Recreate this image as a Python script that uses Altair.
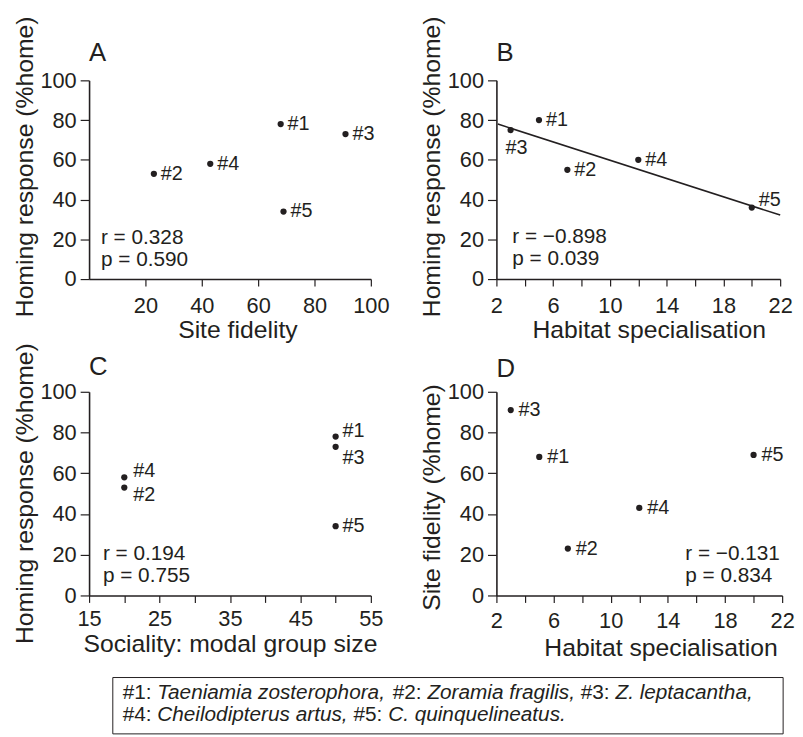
import altair as alt
import pandas as pd

# ---------------- data ----------------
species = ["#1", "#2", "#3", "#4", "#5"]
site_fidelity = [68, 23, 91, 43, 69]
homing_a = [78, 53, 73, 58, 34]
homing_b = [80, 55, 75, 60, 36]
homing_c = [78, 53, 73, 58, 34]
habitat = [5, 7, 3, 12, 20]
sociality = [50, 20, 50, 20, 50]

stats_a = ["r = 0.328", "p = 0.590"]
stats_b = ["r = \u22120.898", "p = 0.039"]
stats_c = ["r = 0.194", "p = 0.755"]
stats_d = ["r = \u22120.131", "p = 0.834"]

y_ticks = [0, 20, 40, 60, 80, 100]
fid_ticks = [20, 40, 60, 80, 100]
hab_ticks = [2, 4, 6, 8, 10, 12, 14, 16, 18, 20, 22]
soc_ticks = [15, 20, 25, 30, 35, 40, 45, 50, 55]

legend_line1 = [("#1: ", False), ("Taeniamia zosterophora,", True), (" #2: ", False),
                ("Zoramia fragilis,", True), (" #3: ", False), ("Z. leptacantha,", True)]
legend_line2 = [("#4: ", False), ("Cheilodipterus artus,", True), (" #5: ", False),
                ("C. quinquelineatus.", True)]

# ---------------- style ----------------
FONT = "Liberation Sans"
INK = "#231f20"
LEG_SIZE = 21

# Arial / Liberation Sans advance widths (per 1000 em)
W = {" ": 278, "#": 556, ",": 278, ".": 278, ":": 278, "C": 722, "T": 611, "Z": 611,
     "a": 556, "c": 500, "d": 556, "e": 556, "f": 278, "g": 556, "h": 556, "i": 222,
     "l": 222, "m": 833, "n": 556, "o": 556, "p": 556, "q": 556, "r": 333, "s": 500,
     "t": 278, "u": 556, "z": 500}
for dgt in "0123456789":
    W[dgt] = 556


def text_width(s, size):
    return sum(W.get(ch, 556) for ch in s) * size / 1000.0


def axis_x(values, title, label_expr=None, label_pad=10, title_pad=1, title_x=None):
    kw = dict(values=values, title=title, tickSize=7, labelPadding=label_pad,
              titlePadding=title_pad, labelFlush=False, labelOverlap=False)
    if label_expr:
        kw["labelExpr"] = label_expr
    if title_x is not None:
        kw["titleX"] = title_x
    return alt.Axis(**kw)


def axis_y(title, title_y):
    return alt.Axis(values=y_ticks, title=title, titleY=title_y, tickSize=9,
                    labelPadding=4, titlePadding=2.5, labelOverlap=False)


ONE = alt.Data(values=[{"k": 1}])


def panel(df, xf, yf, xdom, xaxis, yaxis, w, h, letter, letter_y, stats, sx, sy,
          offsets, pre=(), post=()):
    base = alt.Chart(df).encode(
        x=alt.X(f"{xf}:Q", scale=alt.Scale(domain=xdom, nice=False, zero=False), axis=xaxis),
        y=alt.Y(f"{yf}:Q", scale=alt.Scale(domain=[0, 100], nice=False), axis=yaxis),
    )
    layers = [p(base) for p in pre]
    layers.append(base.mark_circle(size=40, color=INK, opacity=1))
    groups = {}
    for sp, off in offsets.items():
        groups.setdefault(off, []).append(sp)
    for (dx, dy, align), sps in groups.items():
        layers.append(
            base.mark_text(dx=dx, dy=dy, align=align, baseline="middle", font=FONT,
                           fontSize=20, color=INK)
            .encode(text="sp:N")
            .transform_filter(alt.FieldOneOfPredicate(field="sp", oneOf=sps))
        )
    layers.append(
        alt.Chart(ONE).mark_text(align="left", baseline="alphabetic", font=FONT, fontSize=21,
                                 lineHeight=22, color=INK)
        .encode(x=alt.value(sx), y=alt.value(sy), text=alt.value(stats))
    )
    layers.append(
        alt.Chart(ONE).mark_text(align="left", baseline="alphabetic", font=FONT, fontSize=26,
                                 color=INK)
        .encode(x=alt.value(0), y=alt.value(letter_y), text=alt.value(letter))
    )
    layers += list(post)
    return alt.layer(*layers).properties(width=w, height=h)


dfA = pd.DataFrame({"sp": species, "fid": site_fidelity, "home": homing_a})
dfB = pd.DataFrame({"sp": species, "hab": habitat, "home": homing_b})
dfC = pd.DataFrame({"sp": species, "soc": sociality, "home": homing_c})
dfD = pd.DataFrame({"sp": species, "hab": habitat, "fid": site_fidelity})

R = (7, 0, "left")
offA = {s: R for s in species}
offB = {"#1": R, "#2": R, "#4": R, "#3": (6, 18, "center"), "#5": (7, -8, "left")}
offC = {"#1": (7, -6, "left"), "#3": (7, 11, "left"), "#4": (9, -6, "left"),
        "#2": (9, 8, "left"), "#5": R}
offD = {s: (8, 0, "left") for s in species}

HAB_EXPR = "datum.value % 4 == 2 ? datum.label : ''"
SOC_EXPR = "datum.value % 10 == 5 ? datum.label : ''"

chartA = panel(dfA, "fid", "home", [0, 100],
               axis_x(fid_ticks, "Site fidelity", title_x=150),
               axis_y("Homing response (%home)", 87),
               285, 201, "A", -20, stats_a, 12, 166, offA)

reg = lambda b: b.transform_regression("hab", "home", extent=[2.1, 22]).mark_line(
    color=INK, strokeWidth=1.6)
chartB = panel(dfB, "hab", "home", [2, 22],
               axis_x(hab_ticks, "Habitat specialisation", HAB_EXPR, title_x=154),
               axis_y("Homing response (%home)", 87),
               287, 201, "B", -20, stats_b, 16, 165, offB, pre=[reg])

# legend box + segmented text (anchored to panel C)
LX, LY1, LY2 = 34, 311, 333
legend_layers = [
    alt.Chart(ONE).mark_rect(fillOpacity=0, stroke=INK, strokeWidth=1)
    .encode(x=alt.value(24), x2=alt.value(702), y=alt.value(289), y2=alt.value(346))
]
for line, yb in ((legend_line1, LY1), (legend_line2, LY2)):
    cursor = 0.0
    for txt, ital in line:
        lead = len(txt) - len(txt.lstrip())
        xpos = LX + cursor + text_width(txt[:lead], LEG_SIZE)
        cursor += text_width(txt, LEG_SIZE)
        mk = dict(align="left", baseline="alphabetic", font=FONT, fontSize=LEG_SIZE, color=INK)
        if ital:
            mk["fontStyle"] = "italic"
        legend_layers.append(
            alt.Chart(ONE).mark_text(**mk)
            .encode(x=alt.value(round(xpos, 1)), y=alt.value(yb), text=alt.value(txt.strip()))
        )

chartC = panel(dfC, "soc", "home", [15, 55],
               axis_x(soc_ticks, "Sociality: modal group size", SOC_EXPR, label_pad=6, title_pad=3),
               axis_y("Homing response (%home)", 102.5),
               285, 206, "C", -17, stats_c, 14, 170, offC, post=legend_layers)

chartD = panel(dfD, "hab", "fid", [2, 22],
               axis_x(hab_ticks, "Habitat specialisation", HAB_EXPR, label_pad=8, title_pad=5,
                      title_x=166),
               axis_y("Site fidelity (%home)", 106.5),
               289, 206, "D", -15, stats_d, 191, 170, offD)

chart = alt.concat(chartA, chartB, chartC, chartD, columns=2, bounds="flush", align="each",
                   spacing={"row": 114, "column": 127}).properties(
    padding={"left": 4, "top": 3, "right": 0, "bottom": 0}
).configure_view(strokeWidth=0).configure_axis(
    domainColor=INK, domainWidth=1.6, tickColor=INK, tickWidth=1.2,
    labelColor=INK, titleColor=INK, labelFont=FONT, titleFont=FONT,
    labelFontSize=22, titleFontSize=25, titleFontWeight="normal", grid=False
)

chart.save("out.html", embed_options={"renderer": "svg", "actions": False})
